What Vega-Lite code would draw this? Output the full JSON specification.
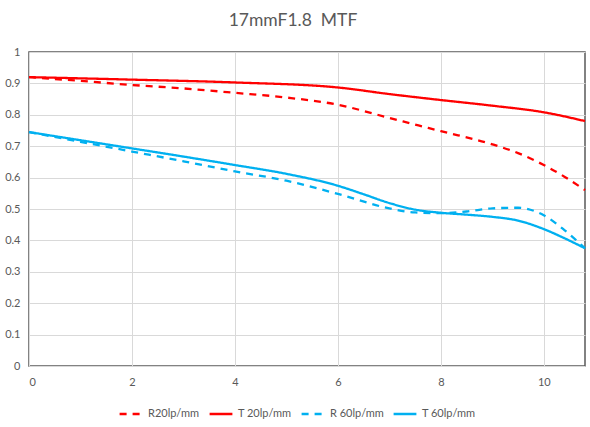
{
  "$schema": "https://vega.github.io/schema/vega-lite/v6.json",
  "width": 556,
  "height": 314,
  "autosize": "none",
  "padding": {"left": 29, "top": 52, "right": 5, "bottom": 61},
  "title": {
    "text": "17mmF1.8\u00a0 MTF",
    "font": "Lato",
    "fontSize": 17.5,
    "fontWeight": "normal",
    "color": "#595959",
    "anchor": "middle",
    "dx": -14,
    "offset": 17
  },
  "config": {
    "font": "Lato",
    "view": {"stroke": "#595959", "strokeWidth": 1.5},
    "axis": {
      "labelFont": "Lato",
      "labelColor": "#595959",
      "labelFontSize": 11,
      "gridColor": "#d9d9d9",
      "domain": false,
      "ticks": false,
      "title": null
    },
    "legend": {"labelFont": "Lato", "labelColor": "#595959", "labelFontSize": 11}
  },
  "data": {
    "values": [
      {"s": "R20lp/mm", "x": 0, "y": 0.92},
      {"s": "R20lp/mm", "x": 1, "y": 0.908},
      {"s": "R20lp/mm", "x": 2, "y": 0.895},
      {"s": "R20lp/mm", "x": 3, "y": 0.884},
      {"s": "R20lp/mm", "x": 4, "y": 0.87},
      {"s": "R20lp/mm", "x": 5, "y": 0.855},
      {"s": "R20lp/mm", "x": 6, "y": 0.832},
      {"s": "R20lp/mm", "x": 7, "y": 0.79},
      {"s": "R20lp/mm", "x": 8, "y": 0.748},
      {"s": "R20lp/mm", "x": 9, "y": 0.706},
      {"s": "R20lp/mm", "x": 9.5, "y": 0.678},
      {"s": "R20lp/mm", "x": 10, "y": 0.64},
      {"s": "R20lp/mm", "x": 10.4, "y": 0.603},
      {"s": "R20lp/mm", "x": 10.8, "y": 0.56},
      {"s": "T 20lp/mm", "x": 0, "y": 0.92},
      {"s": "T 20lp/mm", "x": 2, "y": 0.912},
      {"s": "T 20lp/mm", "x": 4, "y": 0.903},
      {"s": "T 20lp/mm", "x": 6, "y": 0.887},
      {"s": "T 20lp/mm", "x": 7, "y": 0.866},
      {"s": "T 20lp/mm", "x": 8, "y": 0.847},
      {"s": "T 20lp/mm", "x": 9, "y": 0.829},
      {"s": "T 20lp/mm", "x": 10, "y": 0.808},
      {"s": "T 20lp/mm", "x": 10.8, "y": 0.78},
      {"s": "R 60lp/mm", "x": 0, "y": 0.745},
      {"s": "R 60lp/mm", "x": 1, "y": 0.714},
      {"s": "R 60lp/mm", "x": 2, "y": 0.683},
      {"s": "R 60lp/mm", "x": 3, "y": 0.652},
      {"s": "R 60lp/mm", "x": 4, "y": 0.62},
      {"s": "R 60lp/mm", "x": 5, "y": 0.59},
      {"s": "R 60lp/mm", "x": 6, "y": 0.548},
      {"s": "R 60lp/mm", "x": 7, "y": 0.502},
      {"s": "R 60lp/mm", "x": 7.5, "y": 0.489},
      {"s": "R 60lp/mm", "x": 8, "y": 0.487},
      {"s": "R 60lp/mm", "x": 8.5, "y": 0.492},
      {"s": "R 60lp/mm", "x": 9, "y": 0.502},
      {"s": "R 60lp/mm", "x": 9.5, "y": 0.504},
      {"s": "R 60lp/mm", "x": 10, "y": 0.48},
      {"s": "R 60lp/mm", "x": 10.4, "y": 0.433},
      {"s": "R 60lp/mm", "x": 10.8, "y": 0.375},
      {"s": "T 60lp/mm", "x": 0, "y": 0.745},
      {"s": "T 60lp/mm", "x": 1, "y": 0.719},
      {"s": "T 60lp/mm", "x": 2, "y": 0.693},
      {"s": "T 60lp/mm", "x": 3, "y": 0.667},
      {"s": "T 60lp/mm", "x": 4, "y": 0.64},
      {"s": "T 60lp/mm", "x": 5, "y": 0.612},
      {"s": "T 60lp/mm", "x": 6, "y": 0.574},
      {"s": "T 60lp/mm", "x": 6.5, "y": 0.547},
      {"s": "T 60lp/mm", "x": 7, "y": 0.519},
      {"s": "T 60lp/mm", "x": 7.5, "y": 0.498},
      {"s": "T 60lp/mm", "x": 8, "y": 0.488},
      {"s": "T 60lp/mm", "x": 8.5, "y": 0.482},
      {"s": "T 60lp/mm", "x": 9, "y": 0.475},
      {"s": "T 60lp/mm", "x": 9.5, "y": 0.463},
      {"s": "T 60lp/mm", "x": 10, "y": 0.436},
      {"s": "T 60lp/mm", "x": 10.4, "y": 0.407},
      {"s": "T 60lp/mm", "x": 10.8, "y": 0.375}
    ]
  },
  "mark": {"type": "line", "interpolate": "monotone", "strokeWidth": 2.3},
  "encoding": {
    "x": {
      "field": "x",
      "type": "quantitative",
      "scale": {"domain": [0, 10.8], "nice": false},
      "axis": {"values": [0, 2, 4, 6, 8, 10], "labelPadding": 10}
    },
    "y": {
      "field": "y",
      "type": "quantitative",
      "scale": {"domain": [0, 1], "nice": false},
      "axis": {
        "values": [0, 0.1, 0.2, 0.3, 0.4, 0.5, 0.6, 0.7, 0.8, 0.9, 1],
        "format": "~g",
        "labelPadding": 9
      }
    },
    "color": {
      "field": "s",
      "type": "nominal",
      "scale": {
        "domain": ["R20lp/mm", "T 20lp/mm", "R 60lp/mm", "T 60lp/mm"],
        "range": ["#ff0000", "#ff0000", "#00b0f0", "#00b0f0"]
      },
      "legend": {
        "title": null,
        "orient": "none",
        "legendX": 89,
        "legendY": 349,
        "direction": "horizontal",
        "symbolType": "stroke",
        "symbolStrokeWidth": 2.3,
        "symbolSize": 520,
        "columnPadding": 4,
        "labelOffset": 4
      }
    },
    "strokeDash": {
      "field": "s",
      "type": "nominal",
      "scale": {
        "domain": ["R20lp/mm", "T 20lp/mm", "R 60lp/mm", "T 60lp/mm"],
        "range": [[7, 6], [1, 0], [7, 6], [1, 0]]
      },
      "legend": null
    }
  }
}
